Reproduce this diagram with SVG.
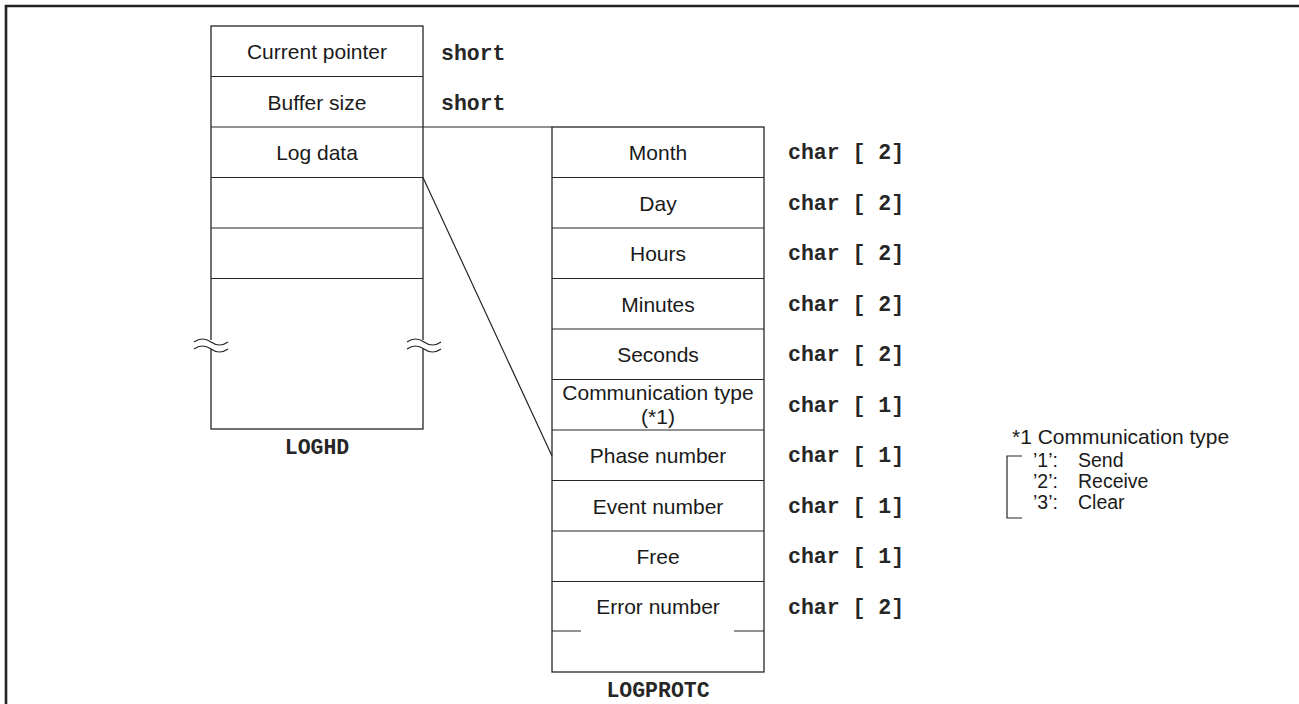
<svg xmlns="http://www.w3.org/2000/svg" width="1299" height="704" viewBox="0 0 1299 704">
<style>
.box{fill:none;stroke:#262626;stroke-width:1.3}
.ln{fill:none;stroke:#262626;stroke-width:1.2}
.t{font-family:"Liberation Sans",Arial,sans-serif;font-size:21px;fill:#1a1a1a;text-anchor:middle}
.tl{font-family:"Liberation Sans",Arial,sans-serif;font-size:21px;fill:#1a1a1a}
.ts{font-family:"Liberation Sans",Arial,sans-serif;font-size:19.5px;fill:#1a1a1a}
.m{font-family:"Liberation Mono","Courier New",monospace;font-weight:bold;font-size:21.5px;fill:#262626}
.mc{font-family:"Liberation Mono","Courier New",monospace;font-weight:bold;font-size:21.5px;fill:#262626;text-anchor:middle}
</style>
<rect width="1299" height="704" fill="#fff"/>
<g id="frame">
<path d="M6,704 V6 H1299" fill="none" stroke="#222" stroke-width="2.6"/>
</g>
<g id="loghd">
<rect class="box" x="211" y="26" width="212" height="403"/>
<path class="ln" d="M211,76.5 H423 M211,127 H423 M211,177.5 H423 M211,228 H423 M211,278.5 H423"/>
<rect x="205" y="340" width="12" height="9" fill="#fff"/>
<rect x="417" y="340" width="12" height="9" fill="#fff"/>
<path class="ln" d="M194,342 q8.5,-6 17,0 t17,0 M194,349 q8.5,-6 17,0 t17,0"/>
<path class="ln" d="M407,342 q8.5,-6 17,0 t17,0 M407,349 q8.5,-6 17,0 t17,0"/>
<text class="t" x="317" y="59">Current pointer</text>
<text class="t" x="317" y="110">Buffer size</text>
<text class="t" x="317" y="160">Log data</text>
<text class="m" x="441" y="60">short</text>
<text class="m" x="441" y="110">short</text>
<text class="mc" x="317" y="454">LOGHD</text>
</g>
<g id="connectors">
<path class="ln" d="M423,127 H552 M423,177.5 L552,456"/>
</g>
<g id="logprotc">
<rect class="box" x="552" y="127" width="212" height="545"/>
<path class="ln" d="M552,177.5 H764 M552,228 H764 M552,278.5 H764 M552,329 H764 M552,379.5 H764 M552,430 H764 M552,480.5 H764 M552,531 H764 M552,581.5 H764"/>
<path class="ln" d="M552,631 H581 M734,631 H764"/>
<text class="t" x="658" y="160">Month</text>
<text class="t" x="658" y="211">Day</text>
<text class="t" x="658" y="261">Hours</text>
<text class="t" x="658" y="312">Minutes</text>
<text class="t" x="658" y="362">Seconds</text>
<text class="t" x="658" y="400">Communication type</text>
<text class="t" x="658" y="423.5">(*1)</text>
<text class="t" x="658" y="463">Phase number</text>
<text class="t" x="658" y="514">Event number</text>
<text class="t" x="658" y="564">Free</text>
<text class="t" x="658" y="614">Error number</text>
<text class="m" x="788" y="159">char [ 2]</text>
<text class="m" x="788" y="210">char [ 2]</text>
<text class="m" x="788" y="260">char [ 2]</text>
<text class="m" x="788" y="311">char [ 2]</text>
<text class="m" x="788" y="361">char [ 2]</text>
<text class="m" x="788" y="412">char [ 1]</text>
<text class="m" x="788" y="462">char [ 1]</text>
<text class="m" x="788" y="513">char [ 1]</text>
<text class="m" x="788" y="563">char [ 1]</text>
<text class="m" x="788" y="614">char [ 2]</text>
<text class="mc" x="658" y="697">LOGPROTC</text>
</g>
<g id="legend">
<text class="tl" x="1012" y="444">*1 Communication type</text>
<path class="ln" d="M1022,456 H1007 V518 H1022"/>
<text class="ts" x="1033" y="467">’1’:</text>
<text class="ts" x="1078" y="467">Send</text>
<text class="ts" x="1033" y="488">’2’:</text>
<text class="ts" x="1078" y="488">Receive</text>
<text class="ts" x="1033" y="509">’3’:</text>
<text class="ts" x="1078" y="509">Clear</text>
</g>
</svg>
